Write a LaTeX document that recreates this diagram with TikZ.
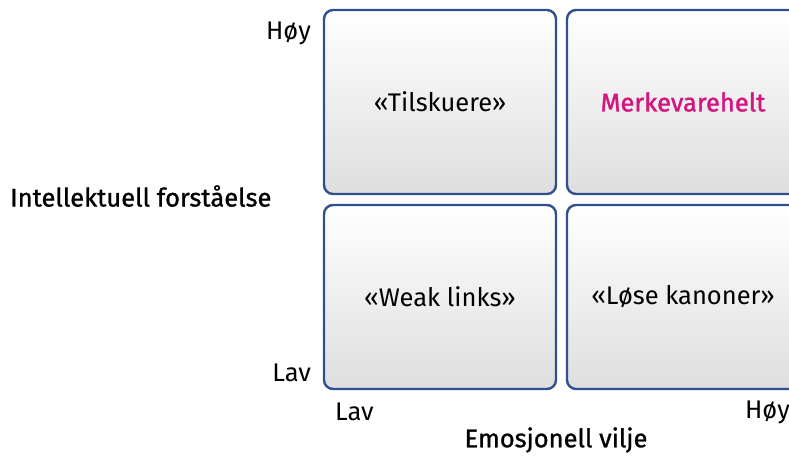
\documentclass[tikz,border=0pt]{standalone}
\usepackage{fontspec}
\setmainfont{Fira Sans}
\definecolor{boxblue}{HTML}{2F4F8F}
\definecolor{hero}{HTML}{D4147F}
\newcommand{\txtsize}{\fontsize{25.5}{28}\selectfont}
\begin{document}
\begin{tikzpicture}[x=1pt,y=-1pt,
  quad/.style={draw=boxblue,line width=2.4pt,rounded corners=9pt,top color=white,bottom color=black!13,minimum width=232pt,minimum height=184pt,inner sep=0pt,font=\txtsize},
  axlab/.style={font=\txtsize,inner sep=0pt},
  axtitle/.style={font=\txtsize\addfontfeatures{FakeBold=1},inner sep=0pt}]
\clip (0,0) rectangle (789,459);
\useasboundingbox (0,0) rectangle (789,459);
\node[quad] (tl) at (440,102) {«Tilskuere»};
\node[quad,text=hero,font=\txtsize\addfontfeatures{FakeBold=1.3}] (tr) at (683,102) {Merkevarehelt};
\node[quad] (bl) at (440,297) {«Weak links»};
\node[quad] (br) at (683,297) {«Løse kanoner»};
\node[axlab,anchor=east] (yhi) at (311,33) {Høy};
\node[axlab,anchor=east] (ylo) at (311,373) {Lav};
\node[axlab,anchor=west] (xlo) at (335,412) {Lav};
\node[axlab,anchor=east] (xhi) at (790,412) {Høy};
\node[axtitle,anchor=west] (ytitle) at (10,196) {Intellektuell forståelse};
\node[axtitle] (xtitle) at (556,440) {Emosjonell vilje};
\end{tikzpicture}
\end{document}
